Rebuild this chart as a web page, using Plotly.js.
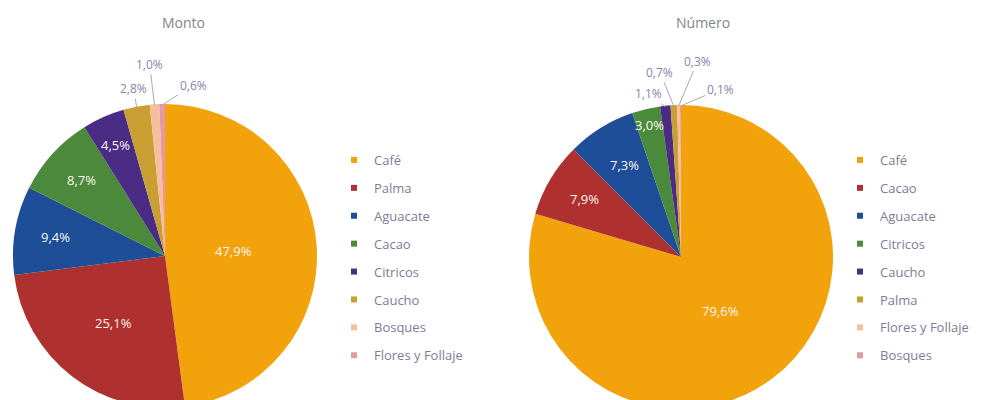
<!DOCTYPE html>
<html>
<head>
<meta charset="utf-8">
<script src="https://cdn.plot.ly/plotly-3.0.1.min.js"></script>
<style>
  html, body { margin: 0; padding: 0; overflow: hidden; background: #ffffff; }
  #chart { width: 1006px; height: 420px; }
</style>
</head>
<body>
<div id="chart"></div>
<script>
// ---------------- DATA ----------------
const montoTitle = 'Monto';
const montoCats = ['Café', 'Palma', 'Aguacate', 'Cacao', 'Citricos', 'Caucho', 'Bosques', 'Flores y Follaje'];
const montoVals = [47.9, 25.1, 9.4, 8.7, 4.5, 2.8, 1.0, 0.6];

const numeroTitle = 'Número';
const numeroCats = ['Café', 'Cacao', 'Aguacate', 'Citricos', 'Caucho', 'Palma', 'Flores y Follaje', 'Bosques'];
const numeroVals = [79.6, 7.9, 7.3, 3.0, 1.1, 0.7, 0.3, 0.1];

// ---------------- STYLE / LAYOUT ----------------
const sliceColors = ['#f2a20a', '#ae302f', '#1f4e98', '#4c8a3b', '#4a2c85', '#c99f34', '#f7be9d', '#e39aa0'];
const PW = 1006, PH = 420;
const R = 152;
const montoCenter = [165, 256];
const numeroCenter = [681, 257];

// label placement: r = fraction of radius for inside labels, out = [dx,dy] pixel offset for outside labels
const montoLabelPos = [{r: 0.45}, {r: 0.56}, {r: 0.73}, {r: 0.74}, {r: 0.80},
                       {out: [-3, -19]}, {out: [-5, -41]}, {out: [31, -20]}];
const numeroLabelPos = [{r: 0.44}, {r: 0.74}, {r: 0.71}, {r: 0.89},
                        {out: [-17, -13]}, {out: [-14, -34]}, {out: [19, -45]}, {out: [40, -17]}];

const FONT = 'Open Sans, Noto Sans, sans-serif';
const textGrey = '#7f7b96';
const outLabelColor = '#8884ab';

function fmt(v) { return v.toFixed(1).replace('.', ',') + '%'; }
function px2paper(px, py) { return [px / PW, 1 - py / PH]; }

function pieTrace(cats, vals, center) {
  return {
    type: 'pie',
    labels: cats,
    values: vals,
    sort: false,
    direction: 'clockwise',
    rotation: 0,
    textinfo: 'none',
    hoverinfo: 'label+percent',
    showlegend: false,
    marker: {colors: sliceColors, line: {width: 0}},
    domain: {
      x: [(center[0] - R) / PW, (center[0] + R) / PW],
      y: [1 - (center[1] + R) / PH, 1 - (center[1] - R) / PH]
    }
  };
}

function legendTraces(cats, legendId, prefix) {
  return cats.map((c, i) => ({
    type: 'scatter',
    x: [null], y: [null],
    mode: 'markers',
    name: c,
    legend: legendId,
    legendgroup: prefix + i,
    showlegend: true,
    hoverinfo: 'skip',
    marker: {symbol: 'square', size: 6, color: sliceColors[i]}
  }));
}

function labelAnnotations(vals, center, pos) {
  const total = vals.reduce((a, b) => a + b, 0);
  let cum = 0;
  const anns = [];
  vals.forEach((v, i) => {
    const mid = (cum + v / 2) / total * 2 * Math.PI;
    cum += v;
    const s = Math.sin(mid), c = Math.cos(mid);
    const p = pos[i];
    if (p.r !== undefined) {
      const [x, y] = px2paper(center[0] + R * p.r * s, center[1] - R * p.r * c);
      anns.push({x, y, xref: 'paper', yref: 'paper', xanchor: 'center', yanchor: 'middle',
                 text: fmt(v), showarrow: false,
                 font: {family: FONT, size: 13, color: '#fbf6f2'}});
    } else {
      const [x, y] = px2paper(center[0] + (R - 1) * s, center[1] - (R - 1) * c);
      anns.push({x, y, xref: 'paper', yref: 'paper', xanchor: 'center', yanchor: 'middle',
                 text: fmt(v), showarrow: true,
                 arrowhead: 0, arrowwidth: 1, arrowcolor: '#a9a7b6', standoff: 0,
                 ax: p.out[0], ay: p.out[1],
                 font: {family: FONT, size: 12, color: outLabelColor}});
    }
  });
  return anns;
}

const data = [
  pieTrace(montoCats, montoVals, montoCenter),
  pieTrace(numeroCats, numeroVals, numeroCenter),
  ...legendTraces(montoCats, 'legend', 'm'),
  ...legendTraces(numeroCats, 'legend2', 'n')
];

const titleAnns = [
  {x: 183 / PW, y: 1 - 22 / PH, xref: 'paper', yref: 'paper', xanchor: 'center', yanchor: 'middle',
   text: montoTitle, showarrow: false, font: {family: FONT, size: 14, color: '#7f8784'}},
  {x: 703 / PW, y: 1 - 22 / PH, xref: 'paper', yref: 'paper', xanchor: 'center', yanchor: 'middle',
   text: numeroTitle, showarrow: false, font: {family: FONT, size: 14, color: '#7f8784'}}
];

const legendCommon = {
  yanchor: 'top', xanchor: 'left',
  y: 1 - 145 / PH,
  traceorder: 'grouped',
  tracegroupgap: 8,
  bgcolor: 'rgba(0,0,0,0)',
  borderwidth: 0,
  font: {family: FONT, size: 13, color: textGrey}
};

const layout = {
  width: PW, height: PH,
  margin: {l: 0, r: 0, t: 0, b: 0},
  paper_bgcolor: '#ffffff',
  plot_bgcolor: '#ffffff',
  showlegend: true,
  xaxis: {visible: false},
  yaxis: {visible: false},
  legend: Object.assign({}, legendCommon, {x: 334 / PW}),
  legend2: Object.assign({}, legendCommon, {x: 840 / PW}),
  annotations: [
    ...titleAnns,
    ...labelAnnotations(montoVals, montoCenter, montoLabelPos),
    ...labelAnnotations(numeroVals, numeroCenter, numeroLabelPos)
  ]
};

Plotly.newPlot('chart', data, layout, {displayModeBar: false, responsive: false});
</script>
</body>
</html>
